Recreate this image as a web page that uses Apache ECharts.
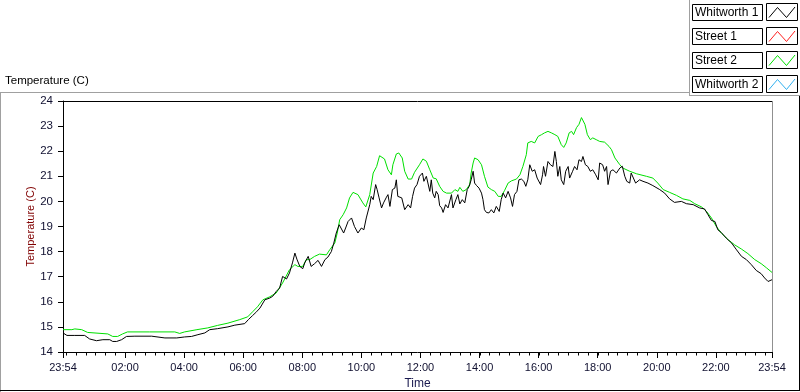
<!DOCTYPE html>
<html><head><meta charset="utf-8">
<script src="https://cdn.jsdelivr.net/npm/echarts@6/dist/echarts.min.js"></script>
<style>html,body{margin:0;padding:0;background:#fff}#c{width:800px;height:392px}</style>
</head><body><div id="c"></div>
<script>
// Time in minutes since midnight (-6 = 23:54 of previous day), temperature in °C
const w1Minutes = [-6,2,18,38,48,62,75,89,95,103,113,123,140,174,176,201,225,227,241,255,268,282,292,308,329,343,363,367,371,379,387,394,404,414,420,427,434,440,444,448,454,460,465,469,475,481,485,492,498,505,512,519,526,532,539,544,549,555,559,564,568,573,580,583,586,593,600,605,610,617,620,624,629,632,636,641,645,651,654,658,663,668,671,674,678,682,688,695,700,704,708,713,718,724,727,732,735,739,742,745,749,752,756,759,763,766,771,776,783,786,792,796,800,805,810,815,819,823,827,830,834,839,844,847,850,854,859,864,869,874,880,884,888,893,898,903,907,911,916,920,925,930,934,938,942,947,952,957,961,964,968,970,974,979,984,989,993,996,999,1003,1006,1011,1015,1020,1023,1029,1033,1038,1042,1047,1050,1055,1060,1065,1070,1076,1081,1084,1090,1094,1098,1101,1106,1111,1118,1125,1130,1135,1139,1145,1148,1152,1157,1165,1172,1182,1192,1206,1216,1226,1236,1250,1260,1274,1287,1297,1304,1311,1318,1324,1331,1341,1352,1362,1372,1382,1392,1402,1412,1419,1426,1434];
const w1Temps = [14.76,14.66,14.66,14.66,14.52,14.45,14.49,14.49,14.42,14.42,14.49,14.62,14.63,14.63,14.56,14.56,14.56,14.53,14.6,14.62,14.69,14.76,14.89,14.93,15.0,15.07,15.13,15.15,15.3,15.45,15.6,15.75,16.08,16.15,16.22,16.41,16.55,17.01,17.0,16.91,17.15,17.55,17.94,17.7,17.41,17.32,17.55,17.81,17.41,17.52,17.65,17.41,17.68,17.78,18.0,18.34,18.74,19.07,19.0,18.74,18.94,19.2,19.34,19.4,19.0,18.74,18.94,18.87,19.34,19.87,20.2,20.07,20.67,20.47,20.14,19.74,19.94,20.17,20.27,19.8,20.47,20.53,20.86,20.2,20.27,20.14,19.67,19.87,19.74,20.2,20.53,20.67,21.0,21.13,20.8,21.0,20.93,20.4,20.86,20.33,20.14,20.4,20.27,19.83,19.74,19.56,19.87,19.74,20.27,19.74,20.07,20.27,19.9,20.07,19.94,20.47,20.6,20.86,21.2,20.73,20.63,20.53,20.33,20.07,19.67,19.56,19.54,19.67,19.54,19.8,19.6,20.07,20.33,20.14,20.4,20.14,19.8,20.27,20.4,20.86,20.89,20.8,20.6,20.86,21.46,21.2,21.26,20.93,20.93,20.67,21.06,21.39,21.0,21.59,21.46,21.39,21.99,21.59,21.0,21.39,20.86,20.67,21.2,21.39,20.93,21.2,21.39,21.26,21.66,21.59,21.79,21.46,21.39,21.2,21.26,21.06,20.86,21.53,21.46,21.2,21.39,20.67,21.2,21.26,21.13,21.33,21.4,21.0,20.8,20.73,21.13,21.06,20.73,20.86,20.8,20.73,20.63,20.47,20.33,20.1,19.96,20.0,19.91,19.87,19.74,19.7,19.47,19.24,19.2,18.87,18.76,18.54,18.34,18.07,17.81,17.68,17.48,17.25,17.12,16.95,16.81,16.88];
const s2Minutes = [-6,12,18,32,44,48,85,95,105,115,125,170,221,225,231,241,266,288,308,329,353,369,380,389,400,404,414,427,440,454,465,471,481,488,495,505,515,529,536,546,551,556,563,570,576,583,593,603,609,617,624,631,637,641,647,654,661,664,671,676,683,688,695,702,708,718,725,732,739,746,752,759,766,773,783,790,796,800,806,813,820,823,827,830,837,844,850,857,864,871,878,884,891,898,905,915,922,928,935,938,945,952,959,966,972,979,986,993,999,1006,1011,1016,1022,1027,1031,1037,1042,1047,1049,1054,1059,1065,1070,1077,1084,1094,1103,1108,1115,1125,1131,1145,1159,1179,1192,1202,1213,1226,1240,1253,1267,1277,1291,1301,1311,1321,1331,1345,1358,1372,1385,1399,1412,1423,1434];
const s2Temps = [14.89,14.89,14.92,14.89,14.78,14.72,14.72,14.62,14.62,14.72,14.8,14.8,14.8,14.74,14.74,14.8,14.89,14.96,15.06,15.15,15.29,15.4,15.62,15.8,16.08,16.1,16.2,16.35,16.75,17.28,17.48,17.41,17.41,17.68,17.68,17.81,17.9,17.87,18.08,18.34,18.74,19.27,19.47,19.74,20.14,20.36,20.27,19.94,19.78,20.27,21.13,21.39,21.82,21.86,21.69,21.26,21.06,21.46,21.89,21.93,21.73,21.2,20.89,20.89,21.16,21.46,21.69,21.6,21.26,20.93,20.9,20.6,20.4,20.33,20.33,20.47,20.4,20.56,20.4,20.47,20.67,21.13,21.53,21.73,21.66,21.46,21.0,20.57,20.47,20.4,20.2,20.2,20.44,20.73,20.82,20.89,21.06,21.39,21.86,22.33,22.39,22.33,22.59,22.66,22.73,22.79,22.73,22.66,22.59,22.26,22.15,22.33,22.73,22.79,22.66,22.94,23.07,23.34,23.41,23.07,22.66,22.46,22.53,22.46,22.39,22.36,22.19,22.06,21.73,21.46,21.33,21.2,21.1,21.0,20.93,20.73,20.47,20.36,20.24,20.1,20.04,19.91,19.78,19.6,19.34,19.0,18.74,18.47,18.27,18.1,17.92,17.68,17.52,17.35,17.17];
const s1Minutes = [];
const s1Temps = [];
const w2Minutes = [];
const w2Temps = [];

const seriesNames = ['Whitworth 1', 'Street 1', 'Street 2', 'Whitworth 2'];
const seriesColors = ['#000000', '#ff2020', '#00e000', '#30b0f0'];
const xMajorTicks = [-6,120,240,360,480,600,720,840,960,1080,1200,1320,1434];
const xTickLabels = ['23:54','02:00','04:00','06:00','08:00','10:00','12:00','14:00','16:00','18:00','20:00','22:00','23:54'];
const xMinorTicks = [];
for (let m = 0; m <= 1420; m += 20) xMinorTicks.push(m);
const yMin = 14, yMax = 24, yStep = 1;

const pairs = (xs, ys) => xs.map((x, i) => [x, ys[i]]);
const allData = [pairs(w1Minutes, w1Temps), pairs(s1Minutes, s1Temps), pairs(s2Minutes, s2Temps), pairs(w2Minutes, w2Temps)];

const FONT = '"Liberation Sans", Arial, sans-serif';
const chart = echarts.init(document.getElementById('c'), null, {renderer: 'canvas'});

const G = {left: 63, top: 101, right: 772, bottom: 352};

// Legend drawn as boxed entries: name box + swatch box with zigzag in series colour
const legendEls = [];
seriesNames.forEach((name, i) => {
  const y0 = 4 + i * 24;
  legendEls.push({type: 'rect', shape: {x: 692.5, y: y0 + 0.5, width: 70, height: 16}, style: {fill: '#fff', stroke: '#000', lineWidth: 1}});
  legendEls.push({type: 'text', x: 695, y: y0 + 9, style: {text: name, font: '12px ' + FONT, fill: '#000', textVerticalAlign: 'middle', verticalAlign: 'middle'}});
  legendEls.push({type: 'rect', shape: {x: 766.5, y: y0 - 0.5, width: 31, height: 17}, style: {fill: '#fff', stroke: '#000', lineWidth: 1}});
  legendEls.push({type: 'polyline', shape: {points: [[769, y0 + 13.5], [777.5, y0 + 3.5], [786.5, y0 + 13.5], [795, y0 + 3]]}, style: {stroke: seriesColors[i], lineWidth: 1, fill: null}});
});

const frameEls = [
  // outer frame
  {type: 'line', shape: {x1: 0, y1: 92.5, x2: 690, y2: 92.5}, style: {stroke: '#a0a0a0', lineWidth: 1}},
  {type: 'line', shape: {x1: 0.5, y1: 92.5, x2: 0.5, y2: 392}, style: {stroke: '#a0a0a0', lineWidth: 1}},
  {type: 'line', shape: {x1: 0, y1: 390.5, x2: 800, y2: 390.5}, style: {stroke: '#000', lineWidth: 1}},
  {type: 'line', shape: {x1: 799.5, y1: 95, x2: 799.5, y2: 391}, style: {stroke: '#000', lineWidth: 1}},
  {type: 'line', shape: {x1: 689.5, y1: 0, x2: 689.5, y2: 96}, style: {stroke: '#a0a0a0', lineWidth: 1}},
  {type: 'line', shape: {x1: 689.5, y1: 95.5, x2: 800, y2: 95.5}, style: {stroke: '#a0a0a0', lineWidth: 1}},
  // plot frame (top and right)
  {type: 'line', shape: {x1: G.left, y1: G.top + 0.5, x2: G.right, y2: G.top + 0.5}, style: {stroke: '#000', lineWidth: 1}},
  {type: 'line', shape: {x1: G.right + 0.5, y1: G.top, x2: G.right + 0.5, y2: G.bottom + 1}, style: {stroke: '#909090', lineWidth: 1}},
  {type: 'text', x: 5, y: 81, style: {text: 'Temperature (C)', font: '11.5px ' + FONT, fill: '#000', verticalAlign: 'middle', textVerticalAlign: 'middle'}}
];

const option = {
  backgroundColor: '#ffffff',
  animation: false,
  grid: {left: G.left, top: G.top, width: G.right - G.left, height: G.bottom - G.top, containLabel: false, outerBoundsMode: 'none'},
  xAxis: {
    type: 'value', min: -6, max: 1434, position: 'bottom',
    name: 'Time', nameLocation: 'middle', nameGap: 26, nameMoveOverlap: false,
    nameTextStyle: {fontFamily: FONT, fontSize: 12, color: '#1a1a50'},
    axisLine: {show: true, onZero: false, lineStyle: {color: '#000', width: 1}},
    axisTick: {show: true, customValues: xMajorTicks, length: 6, lineStyle: {color: '#000'}},
    axisLabel: {show: true, customValues: xMajorTicks, margin: 10, fontFamily: FONT, fontSize: 11, color: '#101030',
      formatter: v => xTickLabels[xMajorTicks.indexOf(v)] ?? ''},
    splitLine: {show: false}
  },
  yAxis: {
    type: 'value', min: yMin, max: yMax, interval: yStep,
    name: 'Temperature (C)', nameLocation: 'middle', nameGap: 27, nameRotate: 90, nameMoveOverlap: false,
    nameTextStyle: {fontFamily: FONT, fontSize: 11, color: '#800000'},
    axisLine: {show: true, onZero: false, lineStyle: {color: '#000', width: 1}},
    axisTick: {show: true, length: 5, lineStyle: {color: '#000'}},
    axisLabel: {margin: 10, fontFamily: FONT, fontSize: 11.5, color: '#101030'},
    splitLine: {show: false}
  },
  graphic: [...frameEls, ...legendEls],
  series: seriesNames.map((n, i) => ({
    name: n, type: 'line', data: allData[i], showSymbol: false, symbol: 'none',
    color: seriesColors[i], lineStyle: {width: 1, color: seriesColors[i]},
    clip: true, z: i === 0 ? 3 : 2
  }))
};
chart.setOption(option);

// minor ticks every 20 minutes, positioned with the x axis scale
const axisY = chart.convertToPixel({yAxisIndex: 0}, yMin);
const minorEls = xMinorTicks.map(v => {
  const px = Math.round(chart.convertToPixel({xAxisIndex: 0}, v)) + 0.5;
  return {type: 'line', shape: {x1: px, y1: axisY, x2: px, y2: axisY + 3.5}, style: {stroke: '#000', lineWidth: 1}};
});
chart.setOption({graphic: [...frameEls, ...legendEls, ...minorEls]});
</script></body></html>
